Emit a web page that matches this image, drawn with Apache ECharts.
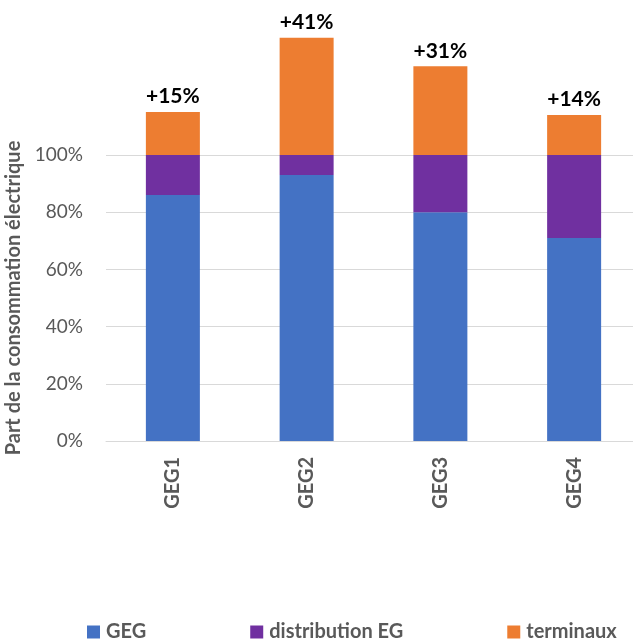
<!DOCTYPE html>
<html>
<head>
<meta charset="utf-8">
<script src="https://cdn.jsdelivr.net/npm/echarts@6/dist/echarts.min.js"></script>
<style>html,body{margin:0;padding:0;background:#fff}#c{width:633px;height:642px}</style>
</head>
<body>
<div id="c"></div>
<script>
var categories = ['GEG1', 'GEG2', 'GEG3', 'GEG4'];
var gegValues = [86, 93, 80, 71];
var distributionValues = [14, 7, 20, 29];
var terminauxValues = [15, 41, 31, 14];
var yTicks = [0, 20, 40, 60, 80, 100];

var chart = echarts.init(document.getElementById('c'), null, {renderer: 'canvas'});
var font = 'Lato';
chart.setOption({
  animation: false,
  textStyle: {fontFamily: font},
  grid: {left: 106, width: 535, top: 155, bottom: 201, containLabel: false, outerBoundsMode: 'none'},
  legend: {
    left: 87, top: 622, padding: 0,
    itemWidth: 13, itemHeight: 13, itemGap: 104,
    icon: 'rect',
    textStyle: {fontFamily: font, fontWeight: 'bold', fontSize: 20, color: '#595959', padding: [0, 0, 0, 1]},
    data: ['GEG', 'distribution EG', 'terminaux']
  },
  xAxis: {
    type: 'category',
    data: categories,
    axisLine: {show: true, lineStyle: {color: '#d9d9d9', width: 1}},
    axisTick: {show: false},
    axisLabel: {rotate: 90, margin: 16, fontFamily: font, fontWeight: 'bold', fontSize: 20, color: '#595959'}
  },
  yAxis: {
    type: 'value',
    min: yTicks[0], max: yTicks[yTicks.length - 1], interval: 20,
    name: 'Part de la consommation électrique',
    nameLocation: 'middle',
    nameGap: 75,
    nameTextStyle: {fontFamily: font, fontWeight: 'bold', fontSize: 20, color: '#595959'},
    axisLine: {show: false},
    axisTick: {show: false},
    axisLabel: {formatter: '{value}%', margin: 23, fontFamily: font, fontSize: 19, color: '#595959'},
    splitLine: {lineStyle: {color: '#d9d9d9', width: 1}}
  },
  series: [
    {name: 'GEG', type: 'bar', stack: 'a', data: gegValues, barWidth: 54, clip: false,
     itemStyle: {color: '#4472C4'}},
    {name: 'distribution EG', type: 'bar', stack: 'a', data: distributionValues, barWidth: 54, clip: false,
     itemStyle: {color: '#7030A0'}},
    {name: 'terminaux', type: 'bar', stack: 'a', data: terminauxValues, barWidth: 54, clip: false,
     itemStyle: {color: '#ED7D31'},
     label: {show: true, position: 'top', distance: 5, formatter: '+{c}%',
       fontFamily: font, fontWeight: 'bold', fontSize: 21, color: '#000'}}
  ]
});
</script>
</body>
</html>
